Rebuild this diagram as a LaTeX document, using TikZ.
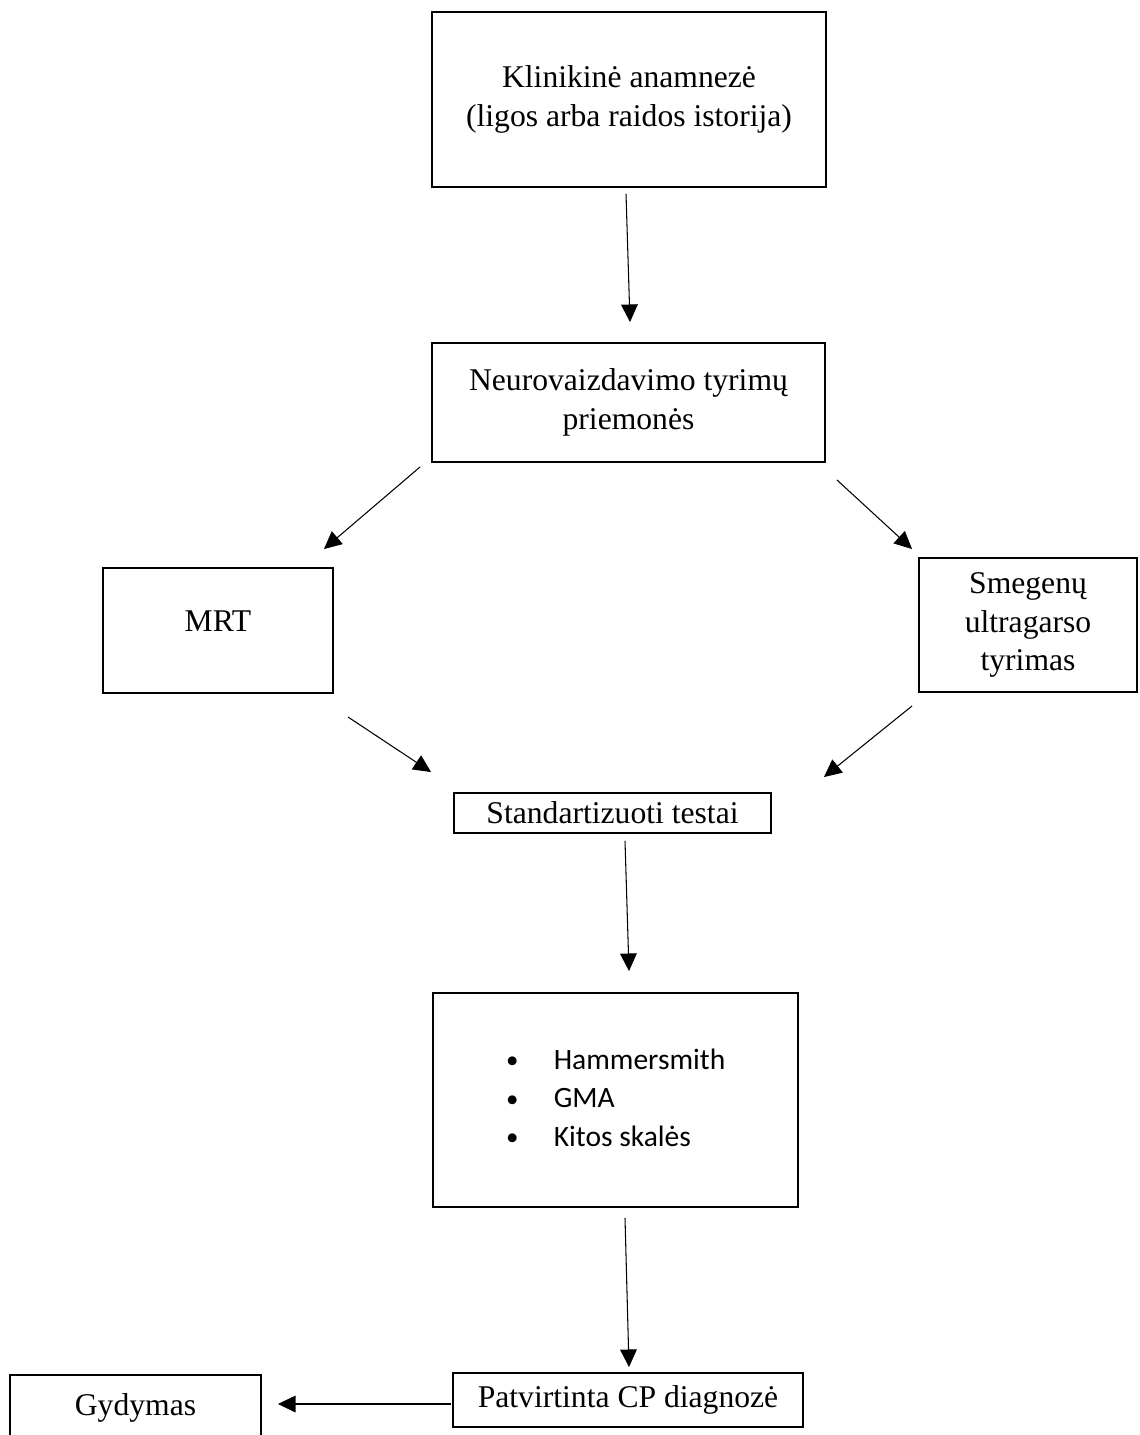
\documentclass[tikz,border=0pt]{standalone}
\usepackage{fontspec}
\setmainfont{Liberation Serif}
\newfontfamily\calibri{Carlito}
\usetikzlibrary{arrows.meta,calc}

\tikzset{
  box/.style={draw, line width=1.1pt, inner sep=0pt, align=center,
    font=\fontsize{18}{22}\selectfont},
  arr/.style={-{Triangle[length=10pt,width=9.5pt]}, line width=0.6pt},
}
\newcommand{\bul}{\raisebox{-2.5pt}{\rmfamily\fontsize{21}{21}\selectfont\textbullet}}

\begin{document}
\begin{tikzpicture}[x=0.02cm,y=-0.02cm]
                \useasboundingbox (0,0) rectangle (1139,1435);

                % boxes
                \node[box, minimum width=7.88cm, minimum height=3.5cm] (klin) at(629,99.5)
                    {Klinikinė anamnezė\\(ligos arba raidos istorija)};
                \node[box, minimum width=7.86cm, minimum height=2.38cm] (neuro) at(628.5,402.5)
                    {Neurovaizdavimo tyrimų\\priemonės};
                \node[box, minimum width=4.6cm, minimum height=2.5cm, text depth=11pt] (mrt) at(218,630.5) {MRT};
                \node[box, minimum width=4.36cm, minimum height=2.68cm] (smeg) at(1028,625)
                    {Smegenų\\ultragarso\\tyrimas};
                \node[box, minimum width=6.34cm, minimum height=0.8cm] (std) at(612.5,813)
                    {Standartizuoti testai};
                \node[box, minimum width=7.3cm, minimum height=4.28cm] (ham) at(615.5,1100)
                    {\calibri\fontsize{16.8}{22}\selectfont
                     \begin{tabular}{@{}l@{\hspace{20pt}}l@{}}
                       \bul & Hammersmith\\
                       \bul & GMA\\
                       \bul & Kitos skalės
                     \end{tabular}};
                \node[box, minimum width=7.0cm, minimum height=1.08cm] (patv) at(628,1400)
                    {Patvirtinta CP diagnozė};
                \node[box, minimum width=5.02cm, minimum height=1.3cm] (gyd) at(135.5,1407.5)
                    {Gydymas};

                % arrows
                \draw[arr] ($(klin.south)+(-3,6)$) -- ($(neuro.north)+(1.5,-20)$);
                \draw[arr] ($(neuro.south west)+(-11,4)$) -- ($(mrt.north east)+(-10,-18)$);
                \draw[arr] ($(neuro.south east)+(11,17)$) -- ($(smeg.north west)+(-6,-8)$);
                \draw[arr] ($(mrt.south east)+(14,23)$) -- ($(std.north west)+(-22,-20)$);
                \draw[arr] ($(smeg.south west)+(-6,13)$) -- ($(std.north east)+(52,-15)$);
                \draw[arr] ($(std.south)+(12.5,7)$) -- ($(ham.north)+(13.5,-21)$);
                \draw[arr] ($(ham.south)+(9.5,10)$) -- ($(patv.north)+(1,-5)$);
                \draw[arr] ($(patv.west)+(-1,4)$) -- ($(gyd.east)+(16,-3.5)$);
            \end{tikzpicture}
\end{document}
